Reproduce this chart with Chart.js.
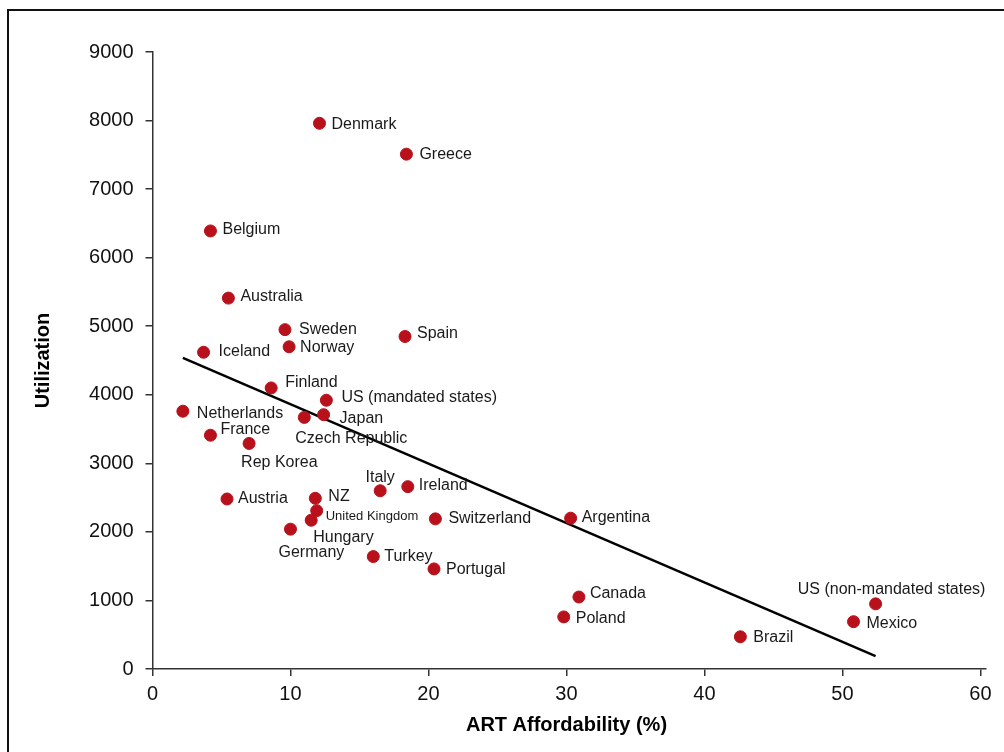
<!DOCTYPE html>
<html>
<head>
<meta charset="utf-8">
<title>ART Affordability vs Utilization</title>
<script src="https://cdn.jsdelivr.net/npm/chart.js@4"></script>
<style>
  html, body { margin: 0; padding: 0; background: #fff; }
  #chart { display: block; }
</style>
</head>
<body>
<canvas id="chart" width="1004" height="752"></canvas>
<script>
// Data
const countries = [
  "Denmark", "Greece", "Belgium", "Australia", "Sweden", "Norway", "Spain",
  "Iceland", "Finland", "US (mandated states)", "Japan", "Czech Republic",
  "Netherlands", "France", "Rep Korea", "Italy", "Ireland", "Austria", "NZ",
  "United Kingdom", "Hungary", "Germany", "Switzerland", "Argentina", "Turkey",
  "Portugal", "Canada", "Poland", "Brazil", "Mexico", "US (non-mandated states)"
];
const affordability = [
  12.1, 18.4, 4.2, 5.5, 9.6, 9.9, 18.3,
  3.7, 8.6, 12.6, 12.4, 11.0,
  2.2, 4.2, 7.0, 16.5, 18.5, 5.4, 11.8,
  11.9, 11.5, 10.0, 20.5, 30.3, 16.0,
  20.4, 30.9, 29.8, 42.6, 50.8, 52.4
];
const utilization = [
  7960, 7510, 6390, 5410, 4950, 4700, 4850,
  4620, 4100, 3920, 3710, 3670,
  3760, 3410, 3290, 2600, 2660, 2480, 2490,
  2310, 2170, 2040, 2190, 2200, 1640,
  1460, 1050, 760, 470, 690, 950
];
// Linear trend line end points
const trendX = [2.2, 52.4];
const trendY = [4537, 188];

const xTicks = [0, 10, 20, 30, 40, 50, 60];
const yTicks = [0, 1000, 2000, 3000, 4000, 5000, 6000, 7000, 8000, 9000];

// Where each label sits relative to its dot: [dx, dy, align]
const labelPlacement = {
  "Denmark": [12, 0], "Greece": [13, -1], "Belgium": [12, -2],
  "Australia": [12, -3], "Sweden": [14, -1], "Norway": [11, 0],
  "Spain": [12, -4], "Iceland": [15, -2], "Finland": [14, -6],
  "US (mandated states)": [15, -4], "Japan": [16, 3],
  "Czech Republic": [-9, 20], "Netherlands": [14, 1], "France": [10, -7],
  "Rep Korea": [-8, 18], "Italy": [0, -14, "center"], "Ireland": [11, -2],
  "Austria": [11, -1], "NZ": [13, -3], "United Kingdom": [9, 5],
  "Hungary": [2, 16], "Germany": [-12, 22], "Switzerland": [13, -1],
  "Argentina": [11, -2], "Turkey": [11, -1], "Portugal": [12, 0],
  "Canada": [11, -4], "Poland": [12, 1], "Brazil": [13, 0],
  "Mexico": [13, 1], "US (non-mandated states)": [16, -15, "center"]
};

const points = countries.map((c, i) => ({ x: affordability[i], y: utilization[i] }));
const trend = trendX.map((x, i) => ({ x, y: trendY[i] }));

const FONT = "'Liberation Sans', Arial, Helvetica, sans-serif";

// Frame, axis titles and point labels
const decorations = {
  id: "decorations",
  beforeDraw(chart) {
    const ctx = chart.ctx;
    ctx.save();
    ctx.strokeStyle = "#111";
    ctx.lineWidth = 2;
    ctx.strokeRect(8, 10, 1200, 1200);
    ctx.restore();
  },
  afterDatasetsDraw(chart) {
    const ctx = chart.ctx;
    const xs = chart.scales.x;
    const ys = chart.scales.y;
    ctx.save();
    ctx.fillStyle = "#1a1a1a";
    ctx.textBaseline = "middle";

    countries.forEach((c, i) => {
      const px = xs.getPixelForValue(affordability[i]);
      const py = ys.getPixelForValue(utilization[i]);
      const p = labelPlacement[c] || [12, 0];
      ctx.textAlign = p[2] || "left";
      ctx.font = (c === "United Kingdom" ? "13px " : "16px ") + FONT;
      ctx.fillText(c, px + p[0], py + p[1] + 1);
    });

    // axis titles
    ctx.fillStyle = "#000";
    ctx.font = "bold 20px " + FONT;
    ctx.textAlign = "center";
    ctx.fillText("ART Affordability (%)", (xs.left + xs.getPixelForValue(60)) / 2, 725);

    ctx.translate(43, (ys.top + ys.bottom) / 2);
    ctx.rotate(-Math.PI / 2);
    ctx.fillText("Utilization", 0, 0);
    ctx.restore();
  }
};

const chart = new Chart(document.getElementById("chart"), {
  type: "scatter",
  data: {
    datasets: [
      {
        label: "Countries",
        data: points,
        backgroundColor: "#b8111b",
        borderColor: "#b8111b",
        pointRadius: 6,
        pointHoverRadius: 6
      },
      {
        label: "Trend",
        type: "line",
        data: trend,
        borderColor: "#000",
        borderWidth: 2.5,
        pointRadius: 0,
        fill: false
      }
    ]
  },
  options: {
    responsive: false,
    animation: false,
    clip: false,
    layout: { padding: { left: 0, right: 18, top: 52, bottom: 0 } },
    plugins: {
      legend: { display: false },
      tooltip: { enabled: false }
    },
    scales: {
      x: {
        type: "linear",
        min: 0,
        max: 60.4,
        afterBuildTicks: (s) => { s.ticks = xTicks.map(v => ({ value: v })); },
        afterFit: (s) => { s.height = 83; },
        border: { display: true, color: "#333", width: 1.5 },
        grid: { drawOnChartArea: false, drawTicks: true, tickLength: 7, color: "#333", lineWidth: 1.5 },
        ticks: { color: "#111", padding: 6, font: { size: 20, family: FONT }, callback: (v) => String(v) }
      },
      y: {
        type: "linear",
        min: 0,
        max: 9000,
        afterBuildTicks: (s) => { s.ticks = yTicks.map(v => ({ value: v })); },
        afterFit: (s) => { s.width = 152.5; },
        border: { display: true, color: "#333", width: 1.5 },
        grid: { drawOnChartArea: false, drawTicks: true, tickLength: 7, color: "#333", lineWidth: 1.5 },
        ticks: { color: "#111", padding: 12, font: { size: 20, family: FONT }, callback: (v) => String(v) }
      }
    }
  },
  plugins: [decorations]
});
</script>
</body>
</html>
